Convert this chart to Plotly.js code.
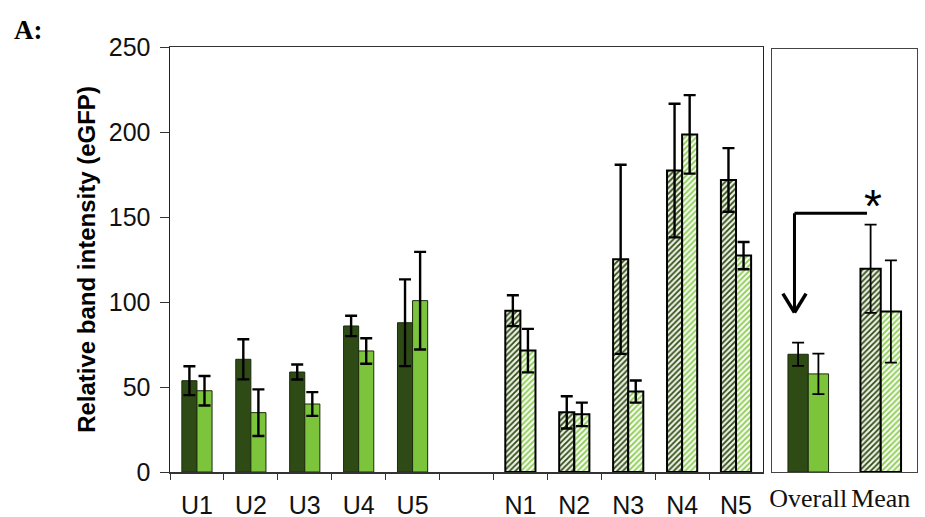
<!DOCTYPE html>
<html>
<head>
<meta charset="utf-8">
<script src="https://cdn.plot.ly/plotly-3.0.1.min.js"></script>
<style>html,body{margin:0;padding:0;background:#fff;}#chart{width:925px;height:517px;}</style>
</head>
<body>
<div id="chart"></div>
<script>
// ---- data ----
const uLabels = ['U1', 'U2', 'U3', 'U4', 'U5'];
const nLabels = ['N1', 'N2', 'N3', 'N4', 'N5'];
const gapLabel = '\u00a0';
const summaryLabels = ['Overall', 'Mean'];

const uDark = [53.7, 66.3, 58.8, 85.9, 87.8];
const uDarkErr = [8.5, 11.8, 4.4, 6.0, 25.5];
const uLight = [47.8, 34.9, 40.0, 71.2, 100.8];
const uLightErr = [8.7, 13.7, 7.0, 7.5, 28.7];

const nDark = [94.9, 35.1, 125.1, 177.3, 171.8];
const nDarkErr = [9.1, 9.5, 55.6, 39.3, 18.7];
const nLight = [71.4, 33.9, 47.3, 198.6, 127.3];
const nLightErr = [12.8, 6.9, 6.5, 23.1, 8.0];

const overallDark = [69.6], overallDarkErr = [6.9];
const overallLight = [58.0], overallLightErr = [12.0];
const meanDark = [120.2], meanDarkErr = [26.1];
const meanLight = [94.9], meanLightErr = [30.2];

const yTicks = [0, 50, 100, 150, 200, 250];

// ---- styles ----
const DARK = '#2f4b15';
const LIGHT = '#7dc43d';
const DARK_HATCH_BG = '#eef2e6';
const LIGHT_HATCH_BG = '#f8fbf3';
const LIGHT_HATCH_FG = '#8acd50';

const cats = uLabels.concat([gapLabel], nLabels);

function solidBar(x, y, err, color, group, xa, ya, thick) {
  return {
    type: 'bar', x: x, y: y, xaxis: xa, yaxis: ya, offsetgroup: group,
    error_y: {type: 'data', array: err, color: '#000', thickness: thick, width: 6, visible: true},
    marker: {color: color, line: {color: '#1a2a0c', width: 1}},
    hoverinfo: 'x+y'
  };
}
function hatchBar(x, y, err, bg, fg, group, xa, ya, thick) {
  return {
    type: 'bar', x: x, y: y, xaxis: xa, yaxis: ya, offsetgroup: group,
    error_y: {type: 'data', array: err, color: '#000', thickness: thick, width: 6, visible: true},
    marker: {color: bg, line: {color: '#000', width: 2},
             pattern: {shape: '/', fgcolor: fg, bgcolor: bg, size: 4, solidity: 0.45, fillmode: 'replace'}},
    hoverinfo: 'x+y'
  };
}

const traces = [
  solidBar(uLabels, uDark, uDarkErr, DARK, 'a', 'x', 'y', 2.4),
  solidBar(uLabels, uLight, uLightErr, LIGHT, 'b', 'x', 'y', 2.4),
  hatchBar(nLabels, nDark, nDarkErr, DARK_HATCH_BG, DARK, 'a', 'x', 'y', 2.4),
  hatchBar(nLabels, nLight, nLightErr, LIGHT_HATCH_BG, LIGHT_HATCH_FG, 'b', 'x', 'y', 2.4),
  solidBar(['Overall'], overallDark, overallDarkErr, DARK, 'c', 'x2', 'y2', 1.8),
  solidBar(['Overall'], overallLight, overallLightErr, LIGHT, 'd', 'x2', 'y2', 1.8),
  hatchBar(['Mean'], meanDark, meanDarkErr, DARK_HATCH_BG, DARK, 'c', 'x2', 'y2', 1.8),
  hatchBar(['Mean'], meanLight, meanLightErr, LIGHT_HATCH_BG, LIGHT_HATCH_FG, 'd', 'x2', 'y2', 1.8)
];

const sans = 'Liberation Sans, Arial, sans-serif';
const serif = 'Liberation Serif, Times New Roman, serif';

const layout = {
  width: 925, height: 517,
  margin: {l: 170, r: 8, t: 47, b: 45, pad: 0},
  paper_bgcolor: '#fff', plot_bgcolor: '#fff',
  showlegend: false,
  barmode: 'group', bargap: 0.44, bargroupgap: 0,
  xaxis: {
    domain: [0, 0.7938], anchor: 'y', type: 'category',
    categoryorder: 'array', categoryarray: cats, range: [-0.5, 10.5],
    tickson: 'boundaries', ticks: 'outside', ticklen: 6, tickwidth: 1, tickcolor: '#333',
    showline: true, linecolor: '#333', linewidth: 1.5, mirror: true,
    showgrid: false, zeroline: false, tickangle: 0,
    tickfont: {family: sans, size: 25, color: '#111'},
    ticklabelstandoff: 10
  },
  yaxis: {
    domain: [0, 1], anchor: 'x', range: [0, 250], tickvals: yTicks,
    ticks: 'outside', ticklen: 9, tickwidth: 1, tickcolor: '#333',
    showline: true, linecolor: '#222', linewidth: 1.5, mirror: true,
    showgrid: false, zeroline: false,
    tickfont: {family: sans, size: 25, color: '#111'},
    ticklabelstandoff: 4,
    title: {text: 'Relative band intensity (eGFP)', standoff: 6,
            font: {family: sans, size: 24, color: '#000', weight: 'bold'}}
  },
  xaxis2: {
    domain: [0.8059, 1], anchor: 'y2', type: 'category',
    categoryorder: 'array', categoryarray: summaryLabels, range: [-0.5, 1.5],
    ticks: '', showline: true, linecolor: '#444', linewidth: 1.2, mirror: true,
    showgrid: false, zeroline: false, tickangle: 0,
    tickfont: {family: serif, size: 26, color: '#111'},
    ticklabelstandoff: 3
  },
  yaxis2: {
    domain: [0, 0.995], anchor: 'x2', range: [0, 250],
    ticks: '', showticklabels: false, showline: true, linecolor: '#444', linewidth: 1.2, mirror: true,
    showgrid: false, zeroline: false
  },
  shapes: [
    {type: 'line', xref: 'x2', yref: 'y2', x0: -0.19, x1: 0.81, y0: 153, y1: 153, line: {color: '#000', width: 3}},
    {type: 'line', xref: 'x2', yref: 'y2', x0: -0.19, x1: -0.19, y0: 153, y1: 94.5, line: {color: '#000', width: 3}},
    {type: 'line', xref: 'x2', yref: 'y2', x0: -0.35, x1: -0.19, y0: 105.5, y1: 94.3, line: {color: '#000', width: 3.5}},
    {type: 'line', xref: 'x2', yref: 'y2', x0: -0.03, x1: -0.19, y0: 105.5, y1: 94.3, line: {color: '#000', width: 3.5}}
  ],
  annotations: [
    {text: '*', xref: 'x2', yref: 'y2', x: 0.9, y: 157, showarrow: false,
     xanchor: 'center', yanchor: 'middle', font: {family: sans, size: 46, color: '#000'}},
    {text: '<b>A:</b>', xref: 'paper', yref: 'paper', x: -0.2115, y: 1.04, showarrow: false,
     xanchor: 'left', yanchor: 'middle', font: {family: serif, size: 27, color: '#000'}}
  ]
};

Plotly.newPlot('chart', traces, layout, {displayModeBar: false, staticPlot: true});
</script>
</body>
</html>
